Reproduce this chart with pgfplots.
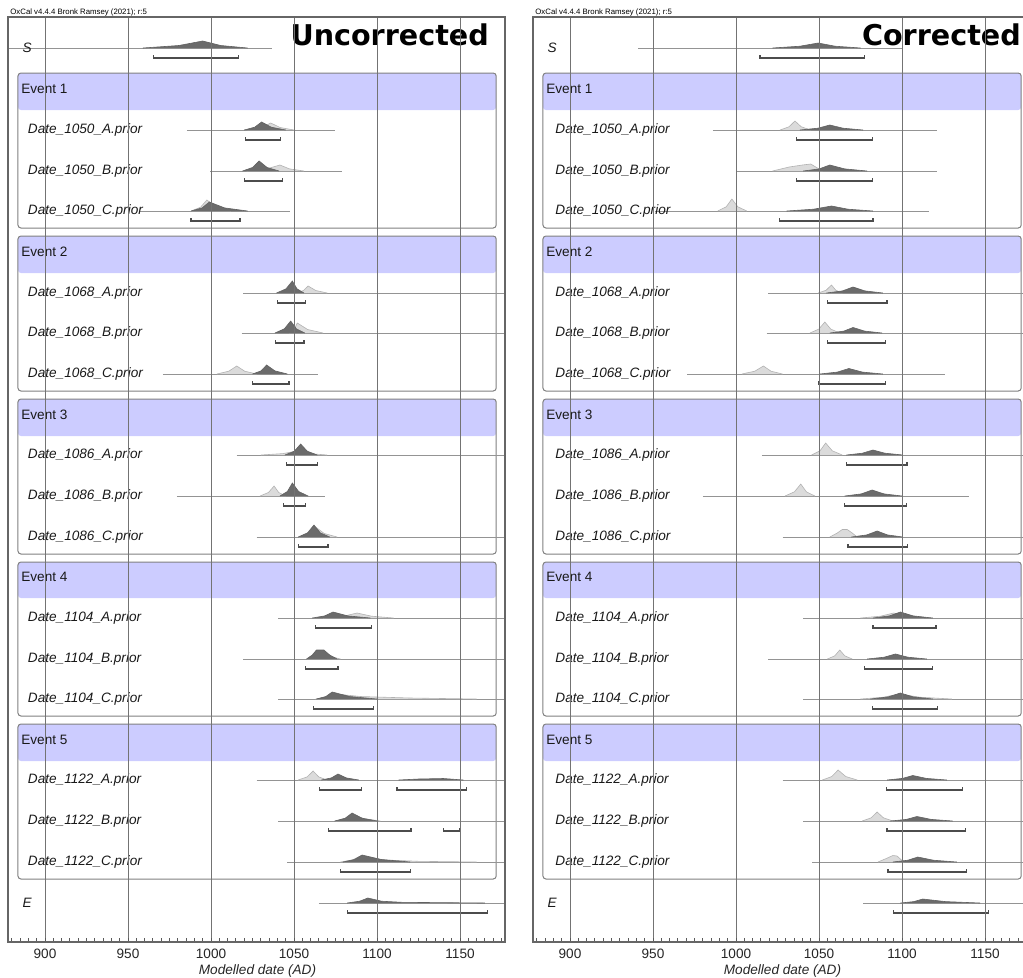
\documentclass[border=0pt]{standalone}
\usepackage{pgfplots}
\pgfplotsset{compat=1.18}
\usepackage{fontspec}
\setmainfont{Liberation Sans}
\newfontfamily\titlefont{DejaVu Sans}
\definecolor{hdr}{HTML}{CCCCFF}
\pgfplotsset{
 prior/.style={draw=black!30, fill=black!14, line width=0.3pt},
 post/.style={draw=black!62, fill=black!58, line width=0.3pt},
 bline/.style={draw=black!42, line width=0.4pt},
 brk/.style={draw=black!70, line width=0.6pt},
 oxax/.style={
  width=248.5pt, height=462.5pt, scale only axis,
  xmin=877.7, xmax=1177.1, ymin=17, ymax=942, y dir=reverse,
  ytick=\empty, xtick={900,950,1000,1050,1100,1150},
  xticklabels={900,950,1000,1050,1100,1150},
  minor xtick={880,885,...,1175}, xtick pos=left, tick align=inside,
  major tick length=2.2pt, minor tick length=2pt,
  xmajorgrids, grid style={black!55, line width=0.5pt},
  axis line style={black!60, line width=0.8pt},
  tick style={black!65, line width=0.45pt},
  axis on top,
  xticklabel style={font=\fontsize{6.8}{8}\selectfont, text=black!85},
  xlabel={Modelled date (AD)},
  xlabel style={font=\fontsize{6.8}{8}\selectfont\itshape, text=black!85, at={(axis description cs:0.502,0)}, anchor=center, yshift=-14.5pt},
 }
}
\tikzset{
 lab/.style={anchor=west, inner sep=0pt, font=\fontsize{6.8}{8}\selectfont, text=black!90},
 ilab/.style={anchor=west, inner sep=0pt, font=\fontsize{6.8}{8}\selectfont\itshape, text=black!90},
 frm/.style={draw=black!50, line width=0.5pt, rounded corners=1.5pt},
 hfill/.style={fill=hdr, rounded corners=1.5pt},
}
\newcommand{\groups}{%
 \fill[hfill] (axis cs:883.7,73) rectangle (axis cs:1171.8,110);
 \draw[frm] (axis cs:883.7,73) rectangle (axis cs:1171.8,228);
 \fill[hfill] (axis cs:883.7,236) rectangle (axis cs:1171.8,273);
 \draw[frm] (axis cs:883.7,236) rectangle (axis cs:1171.8,391);
 \fill[hfill] (axis cs:883.7,399) rectangle (axis cs:1171.8,436);
 \draw[frm] (axis cs:883.7,399) rectangle (axis cs:1171.8,554);
 \fill[hfill] (axis cs:883.7,562) rectangle (axis cs:1171.8,598);
 \draw[frm] (axis cs:883.7,562) rectangle (axis cs:1171.8,716);
 \fill[hfill] (axis cs:883.7,724) rectangle (axis cs:1171.8,761);
 \draw[frm] (axis cs:883.7,724) rectangle (axis cs:1171.8,879);
}
\newcommand{\labels}[1]{%
 \node[ilab] at (axis cs:886.2,48) {S};
 \node[lab] at (axis cs:885.5,89) {Event 1};
 \node[ilab] at (axis cs:#1,130) {Date\_1050\_A.prior};
 \node[ilab] at (axis cs:#1,171) {Date\_1050\_B.prior};
 \node[ilab] at (axis cs:#1,211) {Date\_1050\_C.prior};
 \node[lab] at (axis cs:885.5,252) {Event 2};
 \node[ilab] at (axis cs:#1,293) {Date\_1068\_A.prior};
 \node[ilab] at (axis cs:#1,333) {Date\_1068\_B.prior};
 \node[ilab] at (axis cs:#1,374) {Date\_1068\_C.prior};
 \node[lab] at (axis cs:885.5,415) {Event 3};
 \node[ilab] at (axis cs:#1,455) {Date\_1086\_A.prior};
 \node[ilab] at (axis cs:#1,496) {Date\_1086\_B.prior};
 \node[ilab] at (axis cs:#1,537) {Date\_1086\_C.prior};
 \node[lab] at (axis cs:885.5,577) {Event 4};
 \node[ilab] at (axis cs:#1,618) {Date\_1104\_A.prior};
 \node[ilab] at (axis cs:#1,659) {Date\_1104\_B.prior};
 \node[ilab] at (axis cs:#1,699) {Date\_1104\_C.prior};
 \node[lab] at (axis cs:885.5,740) {Event 5};
 \node[ilab] at (axis cs:#1,780) {Date\_1122\_A.prior};
 \node[ilab] at (axis cs:#1,821) {Date\_1122\_B.prior};
 \node[ilab] at (axis cs:#1,862) {Date\_1122\_C.prior};
 \node[ilab] at (axis cs:886.2,903) {E};
}
\begin{document}
\begin{tikzpicture}
\useasboundingbox (0,0) rectangle (511.5pt,-489pt);
\clip (0,0) rectangle (511.5pt,-489pt);
\node[anchor=base west, inner sep=0pt, font=\fontsize{3.9}{4}\selectfont] at (5pt,-7.4pt) {OxCal v4.4.4 Bronk Ramsey (2021); r:5};
\node[anchor=base west, inner sep=0pt, font=\fontsize{3.9}{4}\selectfont] at (267.5pt,-7.4pt) {OxCal v4.4.4 Bronk Ramsey (2021); r:5};
% ===================== LEFT: Uncorrected =====================
\begin{axis}[oxax, at={(4pt,-471pt)}, anchor=south west]
\groups
% S
\addplot[bline] coordinates {(877.7,48) (1037,48)};
\addplot[post] coordinates {(959,48) (980.6,45.5) (995,41) (1005.8,45.5) (1022,48)};
\addplot[brk] coordinates {(965.5,55) (965.5,58) (1016.5,58) (1016.5,55)};
% 1050_A
\addplot[bline] coordinates {(985.5,130) (1074.5,130)};
\addplot[prior] coordinates {(1022,130) (1030.4,127.5) (1036,123) (1041.6,127.5) (1050,130)};
\addplot[post] coordinates {(1020,130) (1026.3,127.2) (1030.5,122) (1036.3,127.2) (1045,130)};
\addplot[brk] coordinates {(1021,137) (1021,140) (1042,140) (1042,137)};
% 1050_B
\addplot[bline] coordinates {(999.5,171) (1079,171)};
\addplot[prior] coordinates {(1021.5,171) (1033.5,168.9) (1041.5,165) (1047.3,168.9) (1056,171)};
\addplot[post] coordinates {(1019,171) (1025,167.5) (1029,161) (1033.8,167.5) (1041,171)};
\addplot[brk] coordinates {(1020,178) (1020,181) (1043,181) (1043,178)};
% 1050_C
\addplot[bline] coordinates {(957,211) (1047.5,211)};
\addplot[prior] coordinates {(988,211) (993.7,207.2) (997.5,200) (1003.3,207.2) (1012,211)};
\addplot[post] coordinates {(988,211) (994.6,207.9) (999,202) (1008.2,207.9) (1022,211)};
\addplot[brk] coordinates {(988,218) (988,221) (1017.5,221) (1017.5,218)};
% 1068_A
\addplot[bline] coordinates {(1019.5,293) (1177,293)};
\addplot[prior] coordinates {(1051.5,293) (1055.7,290.5) (1058.5,286) (1063.1,290.5) (1070,293)};
\addplot[post] coordinates {(1039.5,293) (1045.2,288.8) (1049,281) (1051.8,288.8) (1056,293)};
\addplot[brk] coordinates {(1040,300) (1040,303) (1057,303) (1057,300)};
% 1068_B
\addplot[bline] coordinates {(1018.5,333) (1177,333)};
\addplot[prior] coordinates {(1047,333) (1050,329.5) (1052,323) (1058.2,329.5) (1067.5,333)};
\addplot[post] coordinates {(1038.5,333) (1044.2,328.8) (1048,321) (1051.4,328.8) (1056.5,333)};
\addplot[brk] coordinates {(1039,340) (1039,343) (1056,343) (1056,340)};
% 1068_C
\addplot[bline] coordinates {(971,374) (1064.5,374)};
\addplot[prior] coordinates {(1003.5,374) (1010.7,371.2) (1015.5,366) (1020.3,371.2) (1027.5,374)};
\addplot[post] coordinates {(1025,374) (1030.1,370.9) (1033.5,365) (1038.5,370.9) (1046,374)};
\addplot[brk] coordinates {(1025,381) (1025,384) (1047,384) (1047,381)};
% 1086_A
\addplot[bline] coordinates {(1015.5,455) (1177,455)};
\addplot[prior] coordinates {(1030,455) (1043.2,453.6) (1052,451) (1059.2,453.6) (1070,455)};
\addplot[post] coordinates {(1044.5,455) (1050.2,451.2) (1054,444) (1058,451.2) (1064,455)};
\addplot[brk] coordinates {(1045.5,462) (1045.5,465) (1064,465) (1064,462)};
% 1086_B
\addplot[bline] coordinates {(979.5,496) (1068.5,496)};
\addplot[prior] coordinates {(1029.5,496) (1034.6,492.5) (1038,486) (1040.8,492.5) (1045,496)};
\addplot[post] coordinates {(1041.5,496) (1046,491.5) (1049,483) (1052.8,491.5) (1058.5,496)};
\addplot[brk] coordinates {(1043.5,503) (1043.5,506) (1057,506) (1057,503)};
% 1086_C
\addplot[bline] coordinates {(1027.5,537) (1177,537)};
\addplot[prior] coordinates {(1053,537) (1059,533.5) (1063,527) (1068.2,533.5) (1076,537)};
\addplot[post] coordinates {(1052.5,537) (1058.2,532.8) (1062,525) (1065.8,532.8) (1071.5,537)};
\addplot[brk] coordinates {(1052.5,544) (1052.5,547) (1070.5,547) (1070.5,544)};
% 1104_A
\addplot[bline] coordinates {(1040.5,618) (1177,618)};
\addplot[prior] coordinates {(1067.5,618) (1079.8,616.2) (1088,613) (1096.8,616.2) (1110,618)};
\addplot[post] coordinates {(1061,618) (1068.5,615.9) (1073.5,612) (1082.5,615.9) (1096,618)};
\addplot[brk] coordinates {(1063,625) (1063,628) (1096.5,628) (1096.5,625)};
% 1104_B
\addplot[bline] coordinates {(1019.5,659) (1177,659)};
\addplot[prior] coordinates {(1058,659) (1063.4,656.2) (1067,651) (1071.4,656.2) (1078,659)};
\addplot[post] coordinates {(1057.5,659) (1061,655) (1063.5,650) (1068,650) (1071.5,655) (1076,659)};
\addplot[brk] coordinates {(1057,666) (1057,669) (1076.5,669) (1076.5,666)};
% 1104_C
\addplot[bline] coordinates {(1040.5,699) (1177,699)};
\addplot[prior] coordinates {(1063,699) (1070,697) (1075,694) (1090,696.5) (1120,698) (1160,699)};
\addplot[post] coordinates {(1063.5,699) (1069.2,696.5) (1073,692) (1083.6,696.5) (1100,699)};
\addplot[brk] coordinates {(1061.5,706) (1061.5,709) (1098,709) (1098,706)};
% 1122_A
\addplot[bline] coordinates {(1027.5,780) (1177,780)};
\addplot[prior] coordinates {(1052.5,780) (1057.9,776.9) (1061.5,771) (1064.9,776.9) (1070,780)};
\addplot[post] coordinates {(1066.5,780) (1072.5,777.9) (1076.5,774) (1081.5,777.9) (1089,780)};
\addplot[post] coordinates {(1113,780) (1125,779) (1140,778.5) (1152,780)};
\addplot[brk] coordinates {(1065.5,787) (1065.5,790) (1090.5,790) (1090.5,787)};
\addplot[brk] coordinates {(1112,787) (1112,790) (1154,790) (1154,787)};
% 1122_B
\addplot[bline] coordinates {(1040.5,821) (1177,821)};
\addplot[prior] coordinates {(1075,821) (1081,818.5) (1085,814) (1091.8,818.5) (1102,821)};
\addplot[post] coordinates {(1074.5,821) (1080.8,818.2) (1085,813) (1091,818.2) (1100,821)};
\addplot[brk] coordinates {(1071,828) (1071,831) (1120.5,831) (1120.5,828)};
\addplot[brk] coordinates {(1140,828) (1140,831) (1149.5,831) (1149.5,828)};
% 1122_C
\addplot[bline] coordinates {(1046,862) (1177,862)};
\addplot[prior] coordinates {(1078,862) (1085.2,859.9) (1090,856) (1104,859.9) (1125,861.3) (1160,862)};
\addplot[post] coordinates {(1079.5,862) (1086.4,859.5) (1091,855) (1102.6,859.5) (1120,862)};
\addplot[brk] coordinates {(1078,869) (1078,872) (1120,872) (1120,869)};
% E
\addplot[bline] coordinates {(1065,903) (1177,903)};
\addplot[post] coordinates {(1082,903) (1089.5,901.2) (1094.5,898) (1102.7,901.2) (1115,902.3) (1165,903)};
\addplot[brk] coordinates {(1082,910) (1082,913) (1166.5,913) (1166.5,910)};
\labels{889.5}
\node[anchor=east, inner sep=0pt, font=\titlefont\bfseries\fontsize{14.3}{16}\selectfont] at (axis cs:1167.6,35) {Uncorrected};
\end{axis}
% ===================== RIGHT: Corrected =====================
\begin{axis}[oxax, at={(266.5pt,-471pt)}, anchor=south west]
\groups
% S
\addplot[bline] coordinates {(941,48) (1100.5,48)};
\addplot[post] coordinates {(1022,48) (1038.5,46.2) (1049.5,43) (1059.7,46.2) (1075,48)};
\addplot[brk] coordinates {(1014.5,55) (1014.5,58) (1077.5,58) (1077.5,55)};
% 1050_A
\addplot[bline] coordinates {(986,130) (1121,130)};
\addplot[prior] coordinates {(1026.5,130) (1031.9,126.8) (1035.5,121) (1039.3,126.8) (1045,130)};
\addplot[post] coordinates {(1038.5,130) (1049.3,128.2) (1056.5,125) (1064.5,128.2) (1076.5,130)};
\addplot[brk] coordinates {(1036.5,137) (1036.5,140) (1082,140) (1082,137)};
% 1050_B
\addplot[bline] coordinates {(1000.5,171) (1121,171)};
\addplot[prior] coordinates {(1022,171) (1032,167) (1040,165) (1045,164) (1049,168) (1052,171)};
\addplot[post] coordinates {(1040.5,171) (1050.1,168.9) (1056.5,165) (1065.5,168.9) (1079,171)};
\addplot[brk] coordinates {(1036.5,178) (1036.5,181) (1082,181) (1082,178)};
% 1050_C
\addplot[bline] coordinates {(951,211) (1116,211)};
\addplot[prior] coordinates {(989,211) (994.1,206.8) (997.5,199) (1001.1,206.8) (1006.5,211)};
\addplot[post] coordinates {(1030.5,211) (1046.7,209.2) (1057.5,206) (1067.5,209.2) (1082.5,211)};
\addplot[brk] coordinates {(1026,218) (1026,221) (1082.5,221) (1082.5,218)};
% 1068_A
\addplot[bline] coordinates {(1019.5,293) (1177,293)};
\addplot[prior] coordinates {(1049.5,293) (1054.3,290.2) (1057.5,285) (1060.1,290.2) (1064,293)};
\addplot[post] coordinates {(1054.5,293) (1064.1,290.9) (1070.5,287) (1077.7,290.9) (1088.5,293)};
\addplot[brk] coordinates {(1055,300) (1055,303) (1091,303) (1091,300)};
% 1068_B
\addplot[bline] coordinates {(1018.5,333) (1177,333)};
\addplot[prior] coordinates {(1044.5,333) (1049.9,329.1) (1053.5,322) (1057.1,329.1) (1062.5,333)};
\addplot[post] coordinates {(1056.5,333) (1064.9,331.1) (1070.5,327.5) (1077.5,331.1) (1088,333)};
\addplot[brk] coordinates {(1055,340) (1055,343) (1090,343) (1090,340)};
% 1068_C
\addplot[bline] coordinates {(970.5,374) (1126,374)};
\addplot[prior] coordinates {(1003.5,374) (1011.3,371.2) (1016.5,366) (1021.1,371.2) (1028,374)};
\addplot[post] coordinates {(1050.5,374) (1061,372.1) (1068,368.5) (1076.2,372.1) (1088.5,374)};
\addplot[brk] coordinates {(1050,381) (1050,384) (1090,384) (1090,381)};
% 1086_A
\addplot[bline] coordinates {(1015.5,455) (1177,455)};
\addplot[prior] coordinates {(1045.5,455) (1050.6,450.8) (1054,443) (1058,450.8) (1064,455)};
\addplot[post] coordinates {(1066.5,455) (1076.1,453.2) (1082.5,450) (1089.7,453.2) (1100.5,455)};
\addplot[brk] coordinates {(1066.5,462) (1066.5,465) (1103,465) (1103,462)};
% 1086_B
\addplot[bline] coordinates {(980,496) (1140.5,496)};
\addplot[prior] coordinates {(1029.5,496) (1035.2,491.8) (1039,484) (1042.4,491.8) (1047.5,496)};
\addplot[post] coordinates {(1065.5,496) (1075.4,493.9) (1082,490) (1089.2,493.9) (1100,496)};
\addplot[brk] coordinates {(1065.5,503) (1065.5,506) (1102.5,506) (1102.5,503)};
% 1086_C
\addplot[bline] coordinates {(1028,537) (1177,537)};
\addplot[prior] coordinates {(1056.5,537) (1061,533) (1064,529.5) (1067,529.5) (1070,533) (1073,537)};
\addplot[post] coordinates {(1069.5,537) (1078.8,534.9) (1085,531) (1091.2,534.9) (1100.5,537)};
\addplot[brk] coordinates {(1067.5,544) (1067.5,547) (1103.5,547) (1103.5,544)};
% 1104_A
\addplot[bline] coordinates {(1040.5,618) (1177,618)};
\addplot[prior] coordinates {(1075,618) (1087,616.2) (1095,613) (1102.2,616.2) (1113,618)};
\addplot[post] coordinates {(1082.5,618) (1092.4,615.9) (1099,612) (1106.8,615.9) (1118.5,618)};
\addplot[brk] coordinates {(1082.5,625) (1082.5,628) (1120.5,628) (1120.5,625)};
% 1104_B
\addplot[bline] coordinates {(1019.5,659) (1177,659)};
\addplot[prior] coordinates {(1055,659) (1059.5,655.8) (1062.5,650) (1065.5,655.8) (1070,659)};
\addplot[post] coordinates {(1079,659) (1089.2,657.2) (1096,654) (1103.6,657.2) (1115,659)};
\addplot[brk] coordinates {(1077.5,666) (1077.5,669) (1118.5,669) (1118.5,666)};
% 1104_C
\addplot[bline] coordinates {(1040.5,699) (1177,699)};
\addplot[prior] coordinates {(1075,699) (1088.8,697.2) (1098,694) (1110.8,697.2) (1130,699)};
\addplot[post] coordinates {(1081,699) (1091.8,696.9) (1099,693) (1106.8,696.9) (1118.5,699)};
\addplot[brk] coordinates {(1082,706) (1082,709) (1121.5,709) (1121.5,706)};
% 1122_A
\addplot[bline] coordinates {(1028,780) (1177,780)};
\addplot[prior] coordinates {(1052,780) (1057.7,776.5) (1061.5,770) (1066.1,776.5) (1073,780)};
\addplot[post] coordinates {(1091,780) (1100.3,778.4) (1106.5,775.5) (1114.7,778.4) (1127,780)};
\addplot[brk] coordinates {(1090.5,787) (1090.5,790) (1136.5,790) (1136.5,787)};
% 1122_B
\addplot[bline] coordinates {(1040.5,821) (1177,821)};
\addplot[prior] coordinates {(1076,821) (1081.4,817.8) (1085,812) (1088.8,817.8) (1094.5,821)};
\addplot[post] coordinates {(1093,821) (1102.6,819.4) (1109,816.5) (1117.6,819.4) (1130.5,821)};
\addplot[brk] coordinates {(1091,828) (1091,831) (1138,831) (1138,828)};
% 1122_C
\addplot[bline] coordinates {(1046,862) (1177,862)};
\addplot[prior] coordinates {(1085.5,862) (1090.5,858.5) (1094.5,855.5) (1097,856) (1101,862)};
\addplot[post] coordinates {(1094.5,862) (1103.5,860.2) (1109.5,857) (1118.9,860.2) (1133,862)};
\addplot[brk] coordinates {(1091.5,869) (1091.5,872) (1139,872) (1139,869)};
% E
\addplot[bline] coordinates {(1076.5,903) (1177,903)};
\addplot[post] coordinates {(1099,903) (1107.1,901.6) (1112.5,899) (1126.3,901.6) (1147,903)};
\addplot[brk] coordinates {(1095,910) (1095,913) (1152,913) (1152,910)};
\labels{891}
\node[anchor=east, inner sep=0pt, font=\titlefont\bfseries\fontsize{14.3}{16}\selectfont] at (axis cs:1171.8,35) {Corrected};
\end{axis}
\end{tikzpicture}
\end{document}
